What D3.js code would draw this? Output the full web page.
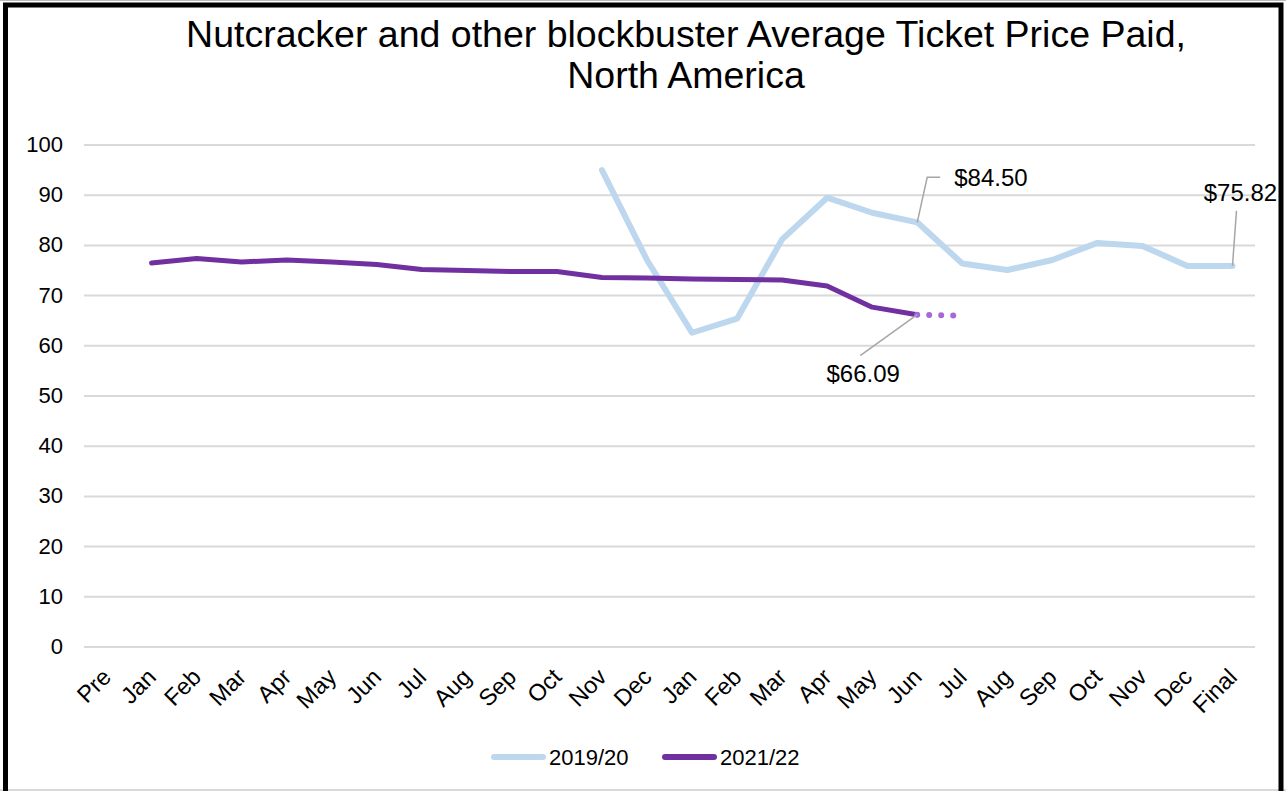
<!DOCTYPE html>
<html>
<head>
<meta charset="utf-8">
<script src="https://cdn.jsdelivr.net/npm/d3@7"></script>
<style>
  html, body { margin: 0; padding: 0; background: #fff; }
  svg { display: block; font-family: "Liberation Sans", Arial, sans-serif; }
</style>
</head>
<body>
<svg id="chart" width="1286" height="791"></svg>
<script>
const categories = ["Pre","Jan","Feb","Mar","Apr","May","Jun","Jul","Aug","Sep","Oct","Nov","Dec",
                    "Jan","Feb","Mar","Apr","May","Jun","Jul","Aug","Sep","Oct","Nov","Dec","Final"];
const series2019 = [null,null,null,null,null,null,null,null,null,null,null,
                    94.9,77.0,62.5,65.3,81.1,89.4,86.4,84.50,76.3,75.0,77.0,80.4,79.8,75.82,75.82];
const series2021 = [null,76.4,77.3,76.6,77.0,76.6,76.1,75.1,74.9,74.7,74.7,73.5,73.4,
                    73.2,73.1,73.0,71.8,67.6,66.09];
const projection2021 = [{i:18, v:66.09},{i:19, v:65.9}];
const yTicks = [0,10,20,30,40,50,60,70,80,90,100];
const seriesNames = ["2019/20","2021/22"];
const titleLines = ["Nutcracker and other blockbuster Average Ticket Price Paid,", "North America"];
const annotations = [
  {i:18, v:84.50, text:"$84.50", leader:[[0,0],[10,-45],[23,-45]], tx:37, ty:-36, anchor:"start"},
  {i:25, v:75.82, text:"$75.82", leader:[[0,0],[4,-55]], tx:8, ty:-65, anchor:"middle"},
  {i:18, v:66.09, text:"$66.09", leader:[[0,0],[-57,41]], tx:-54, ty:67, anchor:"middle"}
];

const colBlue = "#BDD7EE", colPurple = "#7030A0", colDots = "#A866DB";
const svg = d3.select("#chart");

// frame
svg.append("rect").attr("x",0).attr("y",0).attr("width",1286).attr("height",791).attr("fill","#fff");
svg.append("line").attr("x1",0).attr("x2",1286).attr("y1",0.5).attr("y2",0.5).attr("stroke","#bbb").attr("stroke-width",1);
svg.append("line").attr("x1",0).attr("x2",1286).attr("y1",790).attr("y2",790).attr("stroke","#d9d9d9").attr("stroke-width",2);
svg.append("path")
  .attr("d","M5.5,800 L5.5,5 L1281,5 L1281,800")
  .attr("fill","none").attr("stroke","#000").attr("stroke-width",5);

const x = d3.scaleBand().domain(d3.range(categories.length)).range([84,1255]);
const xc = i => x(i) + x.bandwidth()/2;
const y = d3.scaleLinear().domain([0,100]).range([646.5,144.5]);

// title
svg.append("g").selectAll("text").data(titleLines).join("text")
  .attr("x",686).attr("y",(d,i)=>47+i*41)
  .attr("text-anchor","middle").attr("font-size",37.5).attr("fill","#000")
  .text(d=>d);

// y grid + axis
const yAxis = d3.axisLeft(y).tickValues(yTicks).tickSize(-(1255-84)).tickPadding(21);
const gy = svg.append("g").attr("transform","translate(84,0)").call(yAxis);
gy.select(".domain").remove();
gy.selectAll(".tick line").attr("stroke","#d9d9d9").attr("stroke-width",2);
gy.selectAll(".tick text").attr("font-size",22).attr("fill","#000")
  .attr("font-family","Liberation Sans, Arial, sans-serif");

// x axis labels
const xAxis = d3.axisBottom(x).tickFormat(i=>categories[i]).tickSize(0);
const gx = svg.append("g").attr("transform","translate(0,646.5)").call(xAxis);
gx.select(".domain").remove();
gx.selectAll(".tick text")
  .attr("font-size",23.5).attr("fill","#000")
  .attr("font-family","Liberation Sans, Arial, sans-serif")
  .attr("text-anchor","end")
  .attr("x",0).attr("y",0).attr("dy",0)
  .attr("transform","translate(6,32) rotate(-45)");

// lines
const line = d3.line().defined(d=>d!=null).x((d,i)=>xc(i)).y(d=>y(d));
svg.append("path").datum(series2019).attr("d",line)
  .attr("fill","none").attr("stroke",colBlue).attr("stroke-width",6)
  .attr("stroke-linejoin","round").attr("stroke-linecap","round");
svg.append("path").datum(series2021).attr("d",line)
  .attr("fill","none").attr("stroke",colPurple).attr("stroke-width",5)
  .attr("stroke-linejoin","round").attr("stroke-linecap","round");
const projLine = d3.line().x(d=>xc(d.i)).y(d=>y(d.v));
svg.append("path").datum(projection2021).attr("d",projLine)
  .attr("fill","none").attr("stroke",colDots).attr("stroke-width",6)
  .attr("stroke-linecap","round").attr("stroke-dasharray","0 12");

// annotations
const ga = svg.append("g");
annotations.forEach(a=>{
  const px = xc(a.i), py = y(a.v);
  ga.append("path")
    .attr("d", d3.line()(a.leader.map(p=>[px+p[0], py+p[1]])))
    .attr("fill","none").attr("stroke","#a6a6a6").attr("stroke-width",1.5);
  ga.append("text").attr("x",px+a.tx).attr("y",py+a.ty)
    .attr("text-anchor",a.anchor).attr("font-size",24).attr("fill","#000").text(a.text);
});

// legend
const legend = svg.append("g");
const legItems = [
  {name:seriesNames[0], color:colBlue, x0:491},
  {name:seriesNames[1], color:colPurple, x0:662}
];
legItems.forEach(it=>{
  legend.append("line").attr("x1",it.x0+3).attr("x2",it.x0+52).attr("y1",757).attr("y2",757)
    .attr("stroke",it.color).attr("stroke-width",6).attr("stroke-linecap","round");
  legend.append("text").attr("x",it.x0+58).attr("y",765)
    .attr("font-size",22).attr("fill","#000").text(it.name);
});
</script>
</body>
</html>
